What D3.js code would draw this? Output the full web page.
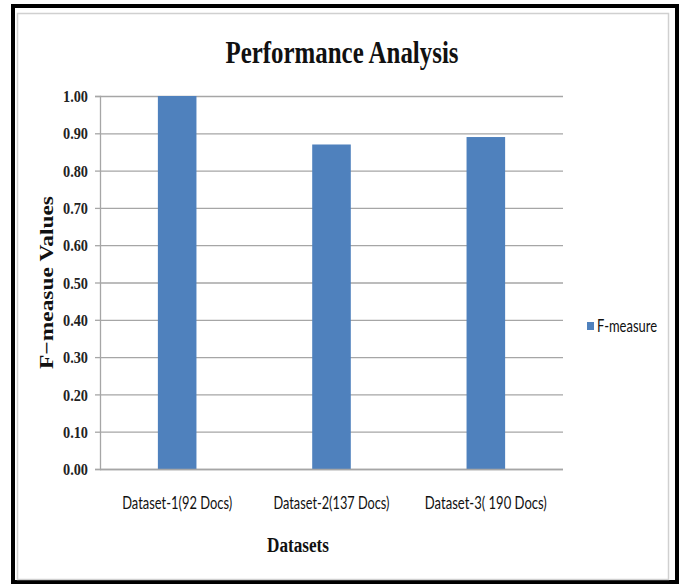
<!DOCTYPE html>
<html>
<head>
<meta charset="utf-8">
<script src="https://cdn.jsdelivr.net/npm/d3@7.9.0/dist/d3.min.js"></script>
<style>
  body { margin: 0; background: #fff; }
  svg { display: block; }
</style>
</head>
<body>
<div id="chart"></div>
<script>
const categories = ['Dataset-1(92 Docs)', 'Dataset-2(137 Docs)', 'Dataset-3( 190 Docs)'];
const fMeasure = [1.0, 0.87, 0.89];
const yTicks = [0, 0.1, 0.2, 0.3, 0.4, 0.5, 0.6, 0.7, 0.8, 0.9, 1.0];
const seriesName = 'F-measure';

const width = 684;
const height = 585;
const area = { left: 100, right: 563, top: 96, bottom: 469 };
const barColor = '#4f81bd';

const svg = d3.select('#chart')
  .append('svg')
  .attr('width', width)
  .attr('height', height);

// frames
svg.append('rect')
  .attr('x', 13).attr('y', 6).attr('width', 664).attr('height', 576)
  .attr('fill', 'none').attr('stroke', '#000').attr('stroke-width', 4);
svg.append('rect')
  .attr('x', 17.5).attr('y', 13.5).attr('width', 651).attr('height', 566)
  .attr('fill', '#fff').attr('stroke', '#d0d0d0').attr('stroke-width', 1.5);

const x = d3.scaleBand()
  .domain(categories)
  .range([area.left, area.right])
  .paddingInner(0.75)
  .paddingOuter(0.375);

const y = d3.scaleLinear().domain([0, 1]).range([area.bottom, area.top]);

// gridlines
svg.append('g')
  .attr('class', 'grid')
  .attr('transform', `translate(${area.left},0)`)
  .call(d3.axisLeft(y).tickValues(yTicks).tickFormat('').tickSize(-(area.right - area.left)))
  .call((g) => g.select('.domain').remove())
  .call((g) => g.selectAll('line').attr('stroke', '#a6a6a6').attr('stroke-width', 1.3));

// bars
svg.append('g')
  .selectAll('rect')
  .data(fMeasure)
  .join('rect')
  .attr('x', (d, i) => x(categories[i]))
  .attr('y', (d) => y(d))
  .attr('width', x.bandwidth())
  .attr('height', (d) => y(0) - y(d))
  .attr('fill', barColor);

// y axis
svg.append('g')
  .attr('transform', `translate(${area.left},0)`)
  .call(d3.axisLeft(y).tickValues(yTicks).tickFormat(d3.format('.2f')).tickSize(5).tickPadding(7))
  .call((g) => g.select('.domain').attr('stroke', '#a6a6a6').attr('stroke-width', 1.3))
  .call((g) => g.selectAll('line').attr('stroke', '#a6a6a6').attr('stroke-width', 1.3))
  .call((g) => g.selectAll('text')
    .attr('fill', '#222')
    .attr('font-family', '"Liberation Serif", serif')
    .attr('font-weight', 'bold')
    .attr('font-size', 16)
    .attr('dy', '0.35em')
    .attr('textLength', 25)
    .attr('lengthAdjust', 'spacingAndGlyphs'));

// x axis
svg.append('g')
  .attr('transform', `translate(0,${area.bottom})`)
  .call(d3.axisBottom(x).tickSize(0).tickPadding(0))
  .call((g) => g.select('.domain').attr('d', `M${area.left},0.5H${area.right}`)
    .attr('stroke', '#a6a6a6').attr('stroke-width', 1.3))
  .call((g) => g.selectAll('text')
    .attr('y', 40)
    .attr('dy', 0)
    .attr('fill', '#111')
    .attr('font-family', 'Lato, sans-serif')
    .attr('font-size', 18)
    .attr('textLength', (d, i) => [110, 116, 122][i])
    .attr('lengthAdjust', 'spacingAndGlyphs'));

// title
svg.append('text')
  .attr('x', 342).attr('y', 63)
  .attr('text-anchor', 'middle')
  .attr('font-family', '"Liberation Serif", serif')
  .attr('font-weight', 'bold')
  .attr('font-size', 31)
  .attr('textLength', 233)
  .attr('lengthAdjust', 'spacingAndGlyphs')
  .attr('fill', '#111')
  .text('Performance Analysis');

// axis titles
svg.append('text')
  .attr('transform', `translate(53,${(area.top + area.bottom) / 2}) rotate(-90)`)
  .attr('text-anchor', 'middle')
  .attr('font-family', '"Liberation Serif", serif')
  .attr('font-weight', 'bold')
  .attr('font-size', 19)
  .attr('textLength', 173)
  .attr('lengthAdjust', 'spacingAndGlyphs')
  .attr('fill', '#111')
  .text('F\u2212measue Values');

svg.append('text')
  .attr('x', 298).attr('y', 552)
  .attr('text-anchor', 'middle')
  .attr('font-family', '"Liberation Serif", serif')
  .attr('font-weight', 'bold')
  .attr('font-size', 20)
  .attr('textLength', 62)
  .attr('lengthAdjust', 'spacingAndGlyphs')
  .attr('fill', '#111')
  .text('Datasets');

// legend
const legend = svg.append('g').attr('transform', 'translate(587,322)');
legend.append('rect').attr('width', 7).attr('height', 8).attr('fill', barColor);
legend.append('text')
  .attr('x', 10).attr('y', 10)
  .attr('font-family', 'Lato, sans-serif')
  .attr('font-size', 17)
  .attr('textLength', 60)
  .attr('lengthAdjust', 'spacingAndGlyphs')
  .attr('fill', '#111')
  .text(seriesName);
</script>
</body>
</html>
